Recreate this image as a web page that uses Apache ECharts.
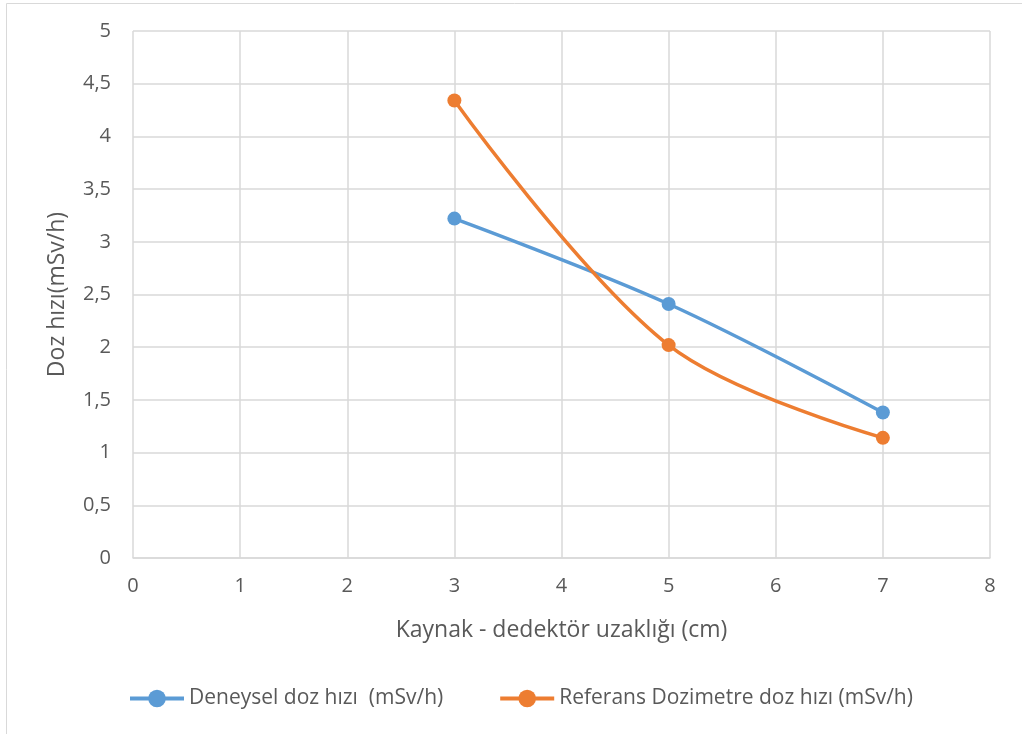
<!DOCTYPE html>
<html><head><meta charset="utf-8">
<script src="https://cdn.jsdelivr.net/npm/echarts@6/dist/echarts.min.js"></script>
<style>html,body{margin:0;padding:0;background:#fff}#c{width:1022px;height:734px}</style>
</head><body><div id="c"></div>
<script>
const distances = [3, 5, 7];
const deneysel = [3.22, 2.41, 1.38];
const referans = [4.34, 2.02, 1.14];
const seriesNames = ['Deneysel doz hızı  (mSv/h)', 'Referans Dozimetre doz hızı (mSv/h)'];
const xTitle = 'Kaynak - dedektör uzaklığı (cm)';
const yTitle = 'Doz hızı(mSv/h)';

const font = 'Open Sans';
const chart = echarts.init(document.getElementById('c'), null, {renderer:'canvas'});
function pts(xs, ys){ return xs.map((x,i)=>[x, ys[i]]); }
chart.setOption({
  animation:false,
  textStyle:{fontFamily:font},
  graphic:[{type:'rect', shape:{x:6.5,y:3.5,width:1030,height:740}, style:{fill:'none', stroke:'#d9d9d9', lineWidth:1}, silent:true, z:-1}],
  grid:{left:133, top:31, right:32, bottom:176},
  legend:{
    top:683, left:123, itemWidth:54, itemHeight:22, itemGap:55,
    lineStyle:{width:4},
    textStyle:{color:'#595959', fontSize:21, fontFamily:font},
    data: seriesNames
  },
  xAxis:{
    type:'value', min:0, max:8, interval:1,
    name:xTitle, nameLocation:'middle', nameGap:61,
    nameTextStyle:{color:'#595959', fontSize:23, fontFamily:font},
    axisLine:{show:true, lineStyle:{color:'#d9d9d9', width:1.5}},
    axisTick:{show:false},
    axisLabel:{color:'#595959', fontSize:20, margin:18, fontFamily:font},
    splitLine:{show:true, lineStyle:{color:'#d9d9d9', width:1.5}}
  },
  yAxis:{
    type:'value', min:0, max:5, interval:0.5,
    name:yTitle, nameLocation:'middle', nameGap:64,
    nameTextStyle:{color:'#595959', fontSize:23, fontFamily:font},
    axisLine:{show:false},
    axisTick:{show:false},
    axisLabel:{color:'#595959', fontSize:20, margin:22, fontFamily:font,
      formatter:v=>String(v).replace('.', ',')},
    splitLine:{show:true, lineStyle:{color:'#d9d9d9', width:1.5}}
  },
  series:[
    {name:seriesNames[0], type:'line', data:pts(distances, deneysel), smooth:0.35,
     symbol:'circle', symbolSize:14, color:'#5B9BD5', lineStyle:{width:3.5, color:'#5B9BD5'}, itemStyle:{color:'#5B9BD5'}},
    {name:seriesNames[1], type:'line', data:pts(distances, referans), smooth:0.35,
     symbol:'circle', symbolSize:14, color:'#ED7D31', lineStyle:{width:3.5, color:'#ED7D31'}, itemStyle:{color:'#ED7D31'}}
  ]
});
</script></body></html>
